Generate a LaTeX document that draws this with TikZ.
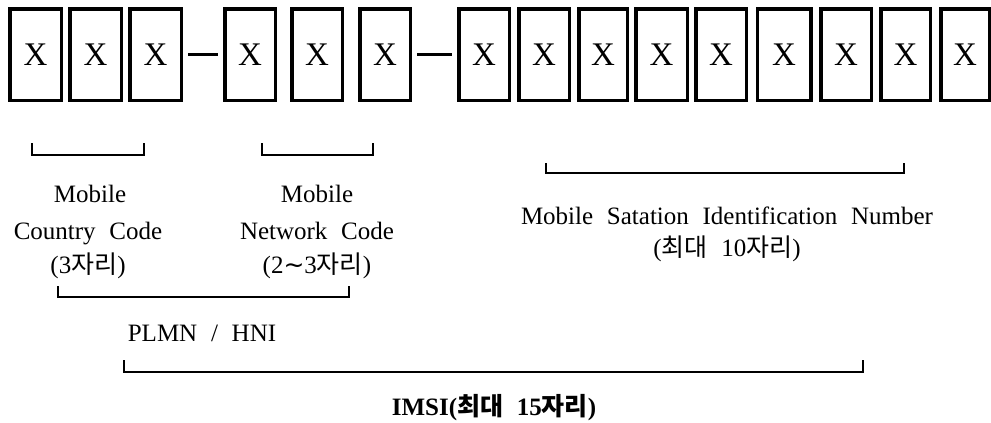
\documentclass[tikz,border=0pt]{standalone}
\usepackage{fontspec}
\setmainfont{Liberation Serif}[WordSpace=2.2]
\newfontfamily\kr{Noto Sans CJK KR}
\newfontfamily\dv{DejaVu Sans}
\begin{document}
\begin{tikzpicture}[x=1pt,y=-1pt,
  digit/.style={draw, line width=3.5pt, inner sep=0pt,
    minimum width={(#1-3.5)*1pt}, minimum height=91.5pt,
    font=\fontsize{33}{33}\selectfont},
  sep/.style={line width=3pt, shorten <=5pt, shorten >=5pt},
  brk/.style={line width=1.4pt},
  lbl/.style={inner sep=0pt, anchor=base, font=\fontsize{25}{28}\selectfont},
  blbl/.style={inner sep=0pt, anchor=base, font=\fontsize{25}{28}\selectfont\bfseries}]
\useasboundingbox (0,0) rectangle (991,423);
% digit boxes
\node[digit=55] (b1)  at (35.5,54.5) {X};
\node[digit=55] (b2)  at (95.5,54.5) {X};
\node[digit=55] (b3)  at (155.5,54.5) {X};
\node[digit=54] (b4)  at (250,54.5) {X};
\node[digit=54] (b5)  at (317,54.5) {X};
\node[digit=54] (b6)  at (385,54.5) {X};
\node[digit=54] (b7)  at (484,54.5) {X};
\node[digit=54] (b8)  at (544,54.5) {X};
\node[digit=52] (b9)  at (603,54.5) {X};
\node[digit=55] (b10) at (661.5,54.5) {X};
\node[digit=54] (b11) at (721,54.5) {X};
\node[digit=57] (b12) at (784,54.5) {X};
\node[digit=54] (b13) at (846,54.5) {X};
\node[digit=53] (b14) at (905.5,54.5) {X};
\node[digit=52] (b15) at (965,54.5) {X};
% separators
\draw[sep] (b3) -- (b4);
\draw[sep] (b6) -- (b7);
% brackets
\draw[brk] (32,143) -- (32,155) -- (144,155) -- (144,143);
\draw[brk] (262,143) -- (262,155) -- (373,155) -- (373,143);
\draw[brk] (546,163) -- (546,173) -- (904,173) -- (904,163);
\draw[brk] (58,286) -- (58,297) -- (349,297) -- (349,286);
\draw[brk] (124,360) -- (124,372) -- (863,372) -- (863,360);
% labels
\node[lbl] (mcc1) at (90,202) {Mobile};
\node[lbl] (mcc2) at (88,239) {Country Code};
\node[lbl] (mcc3) at (88,273) {(3{\kr 자리})};
\node[lbl] (mnc1) at (317,202) {Mobile};
\node[lbl] (mnc2) at (317,239) {Network Code};
\node[lbl] (mnc3) at (317,273) {(2{\dv\char"223C}3{\kr 자리})};
\node[lbl] (msin1) at (727,224) {Mobile Satation Identification Number};
\node[lbl] (msin2) at (727,256) {({\kr 최대} 10{\kr 자리})};
\node[lbl] (plmn) at (202,341) {PLMN / HNI};
\node[blbl] (imsi) at (494,415) {IMSI({\kr\bfseries 최대} 15{\kr\bfseries 자리})};
\end{tikzpicture}
\end{document}
